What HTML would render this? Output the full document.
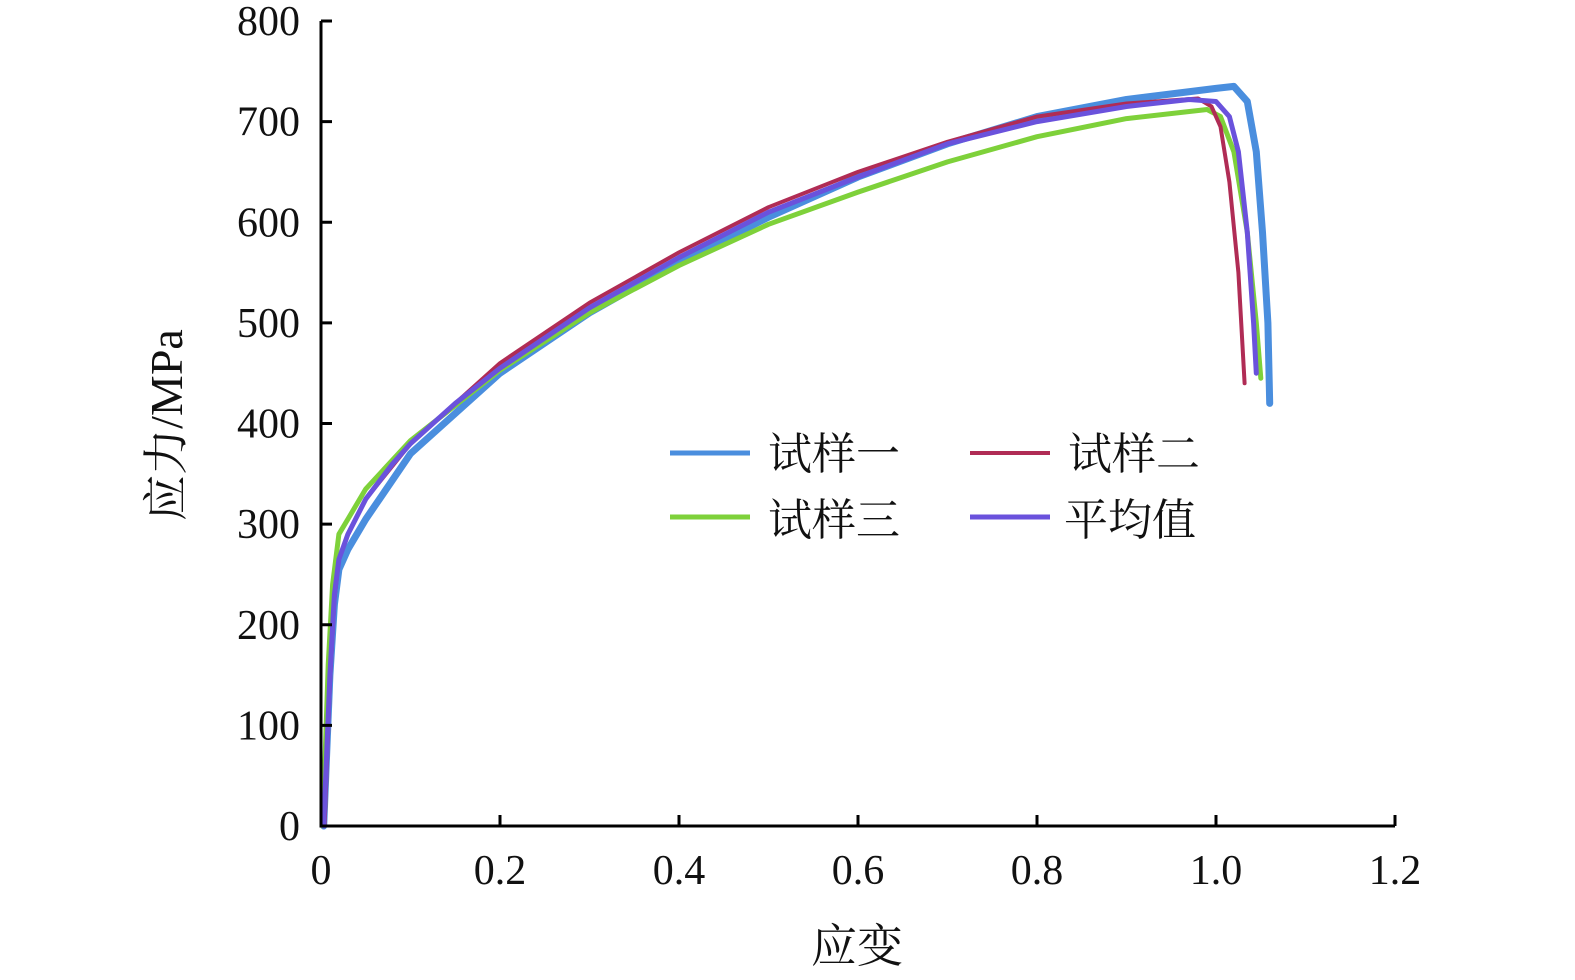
<!DOCTYPE html>
<html><head><meta charset="utf-8"><style>body{margin:0;background:#fff}svg text{font-family:"Liberation Serif","Noto Serif CJK SC",serif;fill:#111}</style></head>
<body>
<svg width="1575" height="975" xmlns="http://www.w3.org/2000/svg">
<g id="plot"></g>
<g id="axes"></g>
</svg>
<script>
const xTicks=[0,0.2,0.4,0.6,0.8,1.0,1.2];
const xTickLabels=["0","0.2","0.4","0.6","0.8","1.0","1.2"];
const yTicks=[0,100,200,300,400,500,600,700,800];
const s1Strain=[0.003,0.01,0.015,0.02,0.03,0.05,0.1,0.2,0.3,0.4,0.5,0.6,0.7,0.8,0.9,1.0,1.02,1.035,1.045,1.052,1.058,1.06];
const s1Stress=[0,150,220,255,275,305,370,450,510,560,605,645,678,705,722,733,735,720,670,590,500,420];
const s2Strain=[0.004,0.01,0.015,0.02,0.03,0.05,0.1,0.2,0.3,0.4,0.5,0.6,0.7,0.8,0.9,0.98,0.995,1.005,1.015,1.025,1.032];
const s2Stress=[0,140,225,265,290,325,380,460,520,570,615,650,680,705,718,723,715,695,640,550,440];
const s3Strain=[0.002,0.008,0.013,0.02,0.03,0.05,0.1,0.2,0.3,0.4,0.5,0.6,0.7,0.8,0.9,0.99,1.005,1.02,1.035,1.045,1.05];
const s3Stress=[0,160,240,290,305,335,383,453,510,557,598,630,660,685,703,712,705,670,590,500,445];
const avgStrain=[0.003,0.01,0.015,0.02,0.03,0.05,0.08,0.1,0.15,0.2,0.3,0.4,0.5,0.6,0.7,0.8,0.9,0.97,1.0,1.015,1.025,1.035,1.042,1.045];
const avgStress=[0,150,230,265,290,325,360,380,420,455,515,565,610,645,678,700,715,722,720,705,670,590,500,450];
const NS="http://www.w3.org/2000/svg";
const X=v=>321+v*(1395-321)/1.2;
const Y=v=>826-v*(826-21)/800;
function el(t,a,p){const e=document.createElementNS(NS,t);for(const k in a)e.setAttribute(k,a[k]);p.appendChild(e);return e;}
const plot=document.getElementById('plot'),axes=document.getElementById('axes');
function series(xs,ys,color,w,name){
 const d=xs.map((x,i)=>(i?'L':'M')+X(x).toFixed(1)+','+Y(ys[i]).toFixed(1)).join('');
 const p=el('path',{d:d,fill:'none',stroke:color,'stroke-width':w,'stroke-linejoin':'round','stroke-linecap':'round'},plot);
 
 
}
series(s1Strain,s1Stress,'#4a8ede',7,'series-sample-1');
series(s3Strain,s3Stress,'#7ed13a',5,'series-sample-3');
series(s2Strain,s2Stress,'#b02c55',4,'series-sample-2');
series(avgStrain,avgStress,'#6a52dc',5,'series-average');
// axes
const ax=el('path',{d:`M${X(0)},${Y(800)}V${Y(0)}H${X(1.2)}`,fill:'none',stroke:'#000','stroke-width':3},axes);


xTicks.forEach((v,i)=>{
 const t=el('line',{x1:X(v),x2:X(v),y1:Y(0),y2:Y(0)-11,stroke:'#000','stroke-width':3},axes);
 
 
 const l=el('text',{x:X(v),y:884,'font-size':42,'text-anchor':'middle'},axes);l.textContent=xTickLabels[i];
 
 
});
yTicks.forEach(v=>{
 const t=el('line',{x1:X(0),x2:X(0)+11,y1:Y(v),y2:Y(v),stroke:'#000','stroke-width':3},axes);
 
 
 const l=el('text',{x:300,y:Y(v)+14,'font-size':42,'text-anchor':'end'},axes);l.textContent=v;
 
 
});
</script>
<svg style="position:absolute;left:0;top:0" width="1575" height="975">
<text x="857" y="962" font-size="46" text-anchor="middle">应变</text>
<text transform="translate(182,425) rotate(-90)" font-size="46" text-anchor="middle">应力/MPa</text>
<g font-size="44">
<line x1="670" x2="750" y1="453" y2="453" stroke="#4a8ede" stroke-width="5"/><text x="768" y="469">试样一</text>
<line x1="970" x2="1050" y1="453" y2="453" stroke="#b02c55" stroke-width="4"/><text x="1068" y="469">试样二</text>
<line x1="670" x2="750" y1="517" y2="517" stroke="#7ed13a" stroke-width="5"/><text x="768" y="535">试样三</text>
<line x1="970" x2="1050" y1="517" y2="517" stroke="#6a52dc" stroke-width="5"/><text x="1064" y="535">平均值</text>
</g>
</svg>
</body></html>
